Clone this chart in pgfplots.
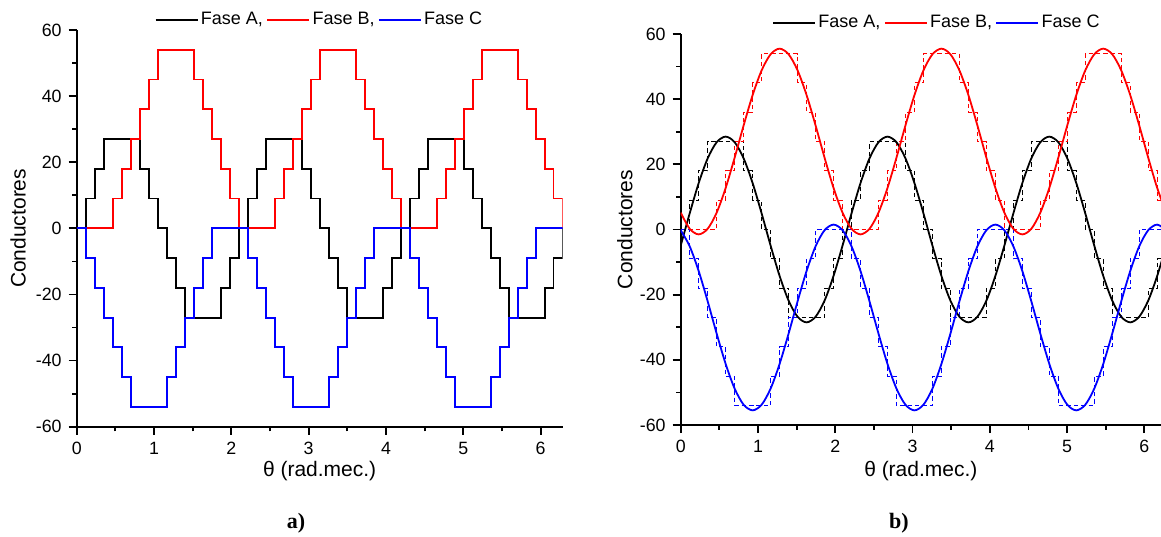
\documentclass[border=0pt]{standalone}
\usepackage{fontspec}
\setmainfont{Liberation Sans}
\newfontfamily\capfont{Liberation Serif}
\usepackage{pgfplots}
\usepackage{pgfplotstable}
\pgfplotsset{compat=1.18}

% x: theta (rad), A/B/C: staircase conductors, a/b/c: smoothed curves
\pgfplotstableread{
x A B C a b c
0.0000 0 0 0 -4.95 5.17 -0.22
0.1164 9 0 -9 4.95 0.22 -5.17
0.2327 18 0 -18 14.25 -1.5 -12.75
0.3491 27 0 -27 21.83 0.22 -22.05
0.4654 27 9 -36 26.78 5.17 -31.95
0.5818 27 18 -45 28.5 12.75 -41.25
0.6981 27 27 -54 26.78 22.05 -48.83
0.8145 18 36 -54 21.83 31.95 -53.78
0.9308 9 45 -54 14.25 41.25 -55.5
1.0472 0 54 -54 4.95 48.83 -53.78
1.1636 -9 54 -45 -4.95 53.78 -48.83
1.2799 -18 54 -36 -14.25 55.5 -41.25
1.3963 -27 54 -27 -21.83 53.78 -31.95
1.5126 -27 45 -18 -26.78 48.83 -22.05
1.6290 -27 36 -9 -28.5 41.25 -12.75
1.7453 -27 27 0 -26.78 31.95 -5.17
1.8617 -18 18 0 -21.83 22.05 -0.22
1.9780 -9 9 0 -14.25 12.75 1.5
2.0944 0 0 0 -4.95 5.17 -0.22
2.2108 9 0 -9 4.95 0.22 -5.17
2.3271 18 0 -18 14.25 -1.5 -12.75
2.4435 27 0 -27 21.83 0.22 -22.05
2.5598 27 9 -36 26.78 5.17 -31.95
2.6762 27 18 -45 28.5 12.75 -41.25
2.7925 27 27 -54 26.78 22.05 -48.83
2.9089 18 36 -54 21.83 31.95 -53.78
3.0252 9 45 -54 14.25 41.25 -55.5
3.1416 0 54 -54 4.95 48.83 -53.78
3.2580 -9 54 -45 -4.95 53.78 -48.83
3.3743 -18 54 -36 -14.25 55.5 -41.25
3.4907 -27 54 -27 -21.83 53.78 -31.95
3.6070 -27 45 -18 -26.78 48.83 -22.05
3.7234 -27 36 -9 -28.5 41.25 -12.75
3.8397 -27 27 0 -26.78 31.95 -5.17
3.9561 -18 18 0 -21.83 22.05 -0.22
4.0724 -9 9 0 -14.25 12.75 1.5
4.1888 0 0 0 -4.95 5.17 -0.22
4.3052 9 0 -9 4.95 0.22 -5.17
4.4215 18 0 -18 14.25 -1.5 -12.75
4.5379 27 0 -27 21.83 0.22 -22.05
4.6542 27 9 -36 26.78 5.17 -31.95
4.7706 27 18 -45 28.5 12.75 -41.25
4.8869 27 27 -54 26.78 22.05 -48.83
5.0033 18 36 -54 21.83 31.95 -53.78
5.1196 9 45 -54 14.25 41.25 -55.5
5.2360 0 54 -54 4.95 48.83 -53.78
5.3524 -9 54 -45 -4.95 53.78 -48.83
5.4687 -18 54 -36 -14.25 55.5 -41.25
5.5851 -27 54 -27 -21.83 53.78 -31.95
5.7014 -27 45 -18 -26.78 48.83 -22.05
5.8178 -27 36 -9 -28.5 41.25 -12.75
5.9341 -27 27 0 -26.78 31.95 -5.17
6.0505 -18 18 0 -21.83 22.05 -0.22
6.1668 -9 9 0 -14.25 12.75 1.5
6.2832 0 0 0 -4.95 5.17 -0.22
}\fases

\pgfplotsset{
  fase/.style={
    scale only axis,
    axis lines=left,
    axis line style={-, line width=0.9pt},
    xmin=0, ymin=-60, ymax=60,
    xtick={0,1,2,3,4,5,6},
    xticklabels={0,1,2,3,4,5,6},
    ytick={-60,-40,-20,0,20,40,60},
    yticklabels={-60,-40,-20,0,20,40,60},
    minor x tick num=1, minor y tick num=1,
    tick align=outside,
    major tick length=4pt, minor tick length=2.3pt,
    tick style={black, line width=0.9pt},
    tick label style={font=\fontsize{8.9}{10}\selectfont},
    label style={font=\fontsize{10.5}{12}\selectfont},
    xlabel={θ (rad.mec.)},
    ylabel={Conductores},
    legend columns=-1,
    legend style={draw=none, fill=none, inner sep=0pt,
      font=\fontsize{9}{10}\selectfont,
      nodes={inner sep=1.2pt},
      /tikz/every even column/.append style={column sep=0.5pt}},
    legend image code/.code={\draw[#1, line width=0.9pt] (0pt,0pt) -- (21pt,0pt);},
  },
  stair/.style={line width=0.9pt, const plot mark left},
  dstair/.style={line width=0.55pt, const plot mark left, dash pattern=on 2.2pt off 1.5pt, forget plot},
  curve/.style={line width=0.9pt, smooth},
}

\begin{document}
\begin{tikzpicture}
\useasboundingbox (0,0) rectangle (580.5pt,268pt);

\begin{axis}[fase,
  at={(38.35pt,54.65pt)}, anchor=south west,
  width=242.95pt, height=198.35pt, xmax=6.2832,
  xlabel style={at={(axis description cs:0.5,-0.1129)}, anchor=center},
  ylabel style={at={(axis description cs:-0.1206,0.5)}, anchor=center},
  legend style={at={(0.5,1.025)}, anchor=center},
]
\addplot[stair, black] table[x=x, y=A] {\fases};
\addlegendentry{Fase A,}
\addplot[stair, red] table[x=x, y=B] {\fases};
\addlegendentry{Fase B,}
\addplot[stair, blue] table[x=x, y=C] {\fases};
\addlegendentry{Fase C}
\end{axis}

\begin{axis}[fase,
  at={(340.35pt,55.5pt)}, anchor=south west,
  width=240.15pt, height=195.5pt, xmax=6.216,
  xlabel style={at={(axis description cs:0.5,-0.1189)}, anchor=center},
  ylabel style={at={(axis description cs:-0.1162,0.5)}, anchor=center},
  legend style={at={(0.534,1.029)}, anchor=center},
]
\addplot[dstair, black] table[x=x, y=A] {\fases};
\addplot[dstair, red] table[x=x, y=B] {\fases};
\addplot[dstair, blue] table[x=x, y=C] {\fases};
\addplot[curve, black] table[x=x, y=a] {\fases};
\addlegendentry{Fase A,}
\addplot[curve, red] table[x=x, y=b] {\fases};
\addlegendentry{Fase B,}
\addplot[curve, blue] table[x=x, y=c] {\fases};
\addlegendentry{Fase C}
\end{axis}

\node[font=\capfont\bfseries\fontsize{11}{13}\selectfont] at (148pt,6.2pt) {a)};
\node[font=\capfont\bfseries\fontsize{11}{13}\selectfont] at (449.5pt,6.2pt) {b)};
\end{tikzpicture}
\end{document}
